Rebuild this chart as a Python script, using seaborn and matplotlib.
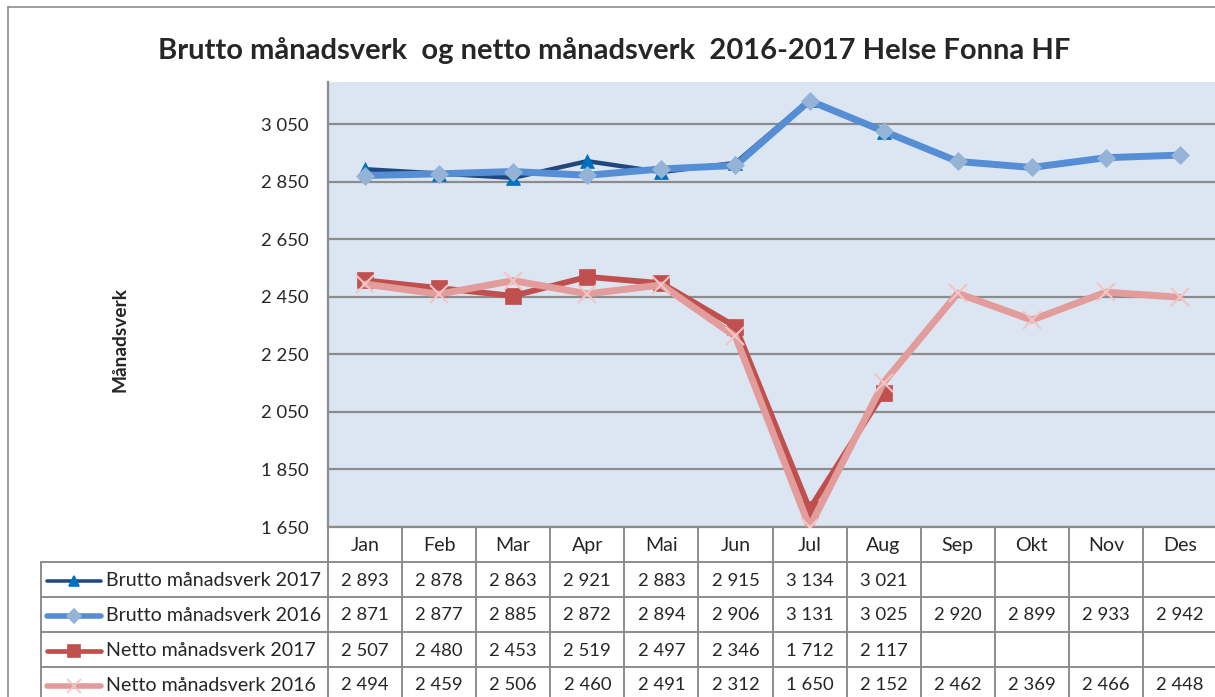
import numpy as np
import pandas as pd
import matplotlib
matplotlib.use("Agg")
import matplotlib.pyplot as plt
import seaborn as sns
from matplotlib.lines import Line2D

months = ["Jan", "Feb", "Mar", "Apr", "Mai", "Jun", "Jul", "Aug", "Sep", "Okt", "Nov", "Des"]
series_names = ["Brutto månadsverk 2017", "Brutto månadsverk 2016",
                "Netto månadsverk 2017", "Netto månadsverk 2016"]
brutto_2017 = [2893, 2878, 2863, 2921, 2883, 2915, 3134, 3021, np.nan, np.nan, np.nan, np.nan]
brutto_2016 = [2871, 2877, 2885, 2872, 2894, 2906, 3131, 3025, 2920, 2899, 2933, 2942]
netto_2017 = [2507, 2480, 2453, 2519, 2497, 2346, 1712, 2117, np.nan, np.nan, np.nan, np.nan]
netto_2016 = [2494, 2459, 2506, 2460, 2491, 2312, 1650, 2152, 2462, 2369, 2466, 2448]
y_ticks = [1650, 1850, 2050, 2250, 2450, 2650, 2850, 3050]
title = "Brutto månadsverk  og netto månadsverk  2016-2017 Helse Fonna HF"
y_label = "Månadsverk"

sns.set_style("white")
plt.rcParams["font.family"] = ["Lato", "DejaVu Sans"]

W, H = 1215, 697
fig = plt.figure(figsize=(W / 100, H / 100), dpi=100)

# overlay axes in pixel coordinates
ov = fig.add_axes([0, 0, 1, 1])
ov.set_xlim(0, W)
ov.set_ylim(H, 0)
ov.axis("off")

px_left, px_right, px_top, px_bot = 328, 1217, 82, 527
ax = fig.add_axes([px_left / W, (H - px_bot) / H, (px_right - px_left) / W, (px_bot - px_top) / H])
ax.set_facecolor("#DCE6F2")

styles = [
    dict(color="#1F497D", lw=3.2, marker="^", ms=10.5, mfc="#0070C0", mec="#0070C0", z=3),
    dict(color="#558ED5", lw=5.0, marker="D", ms=9.5, mfc="#95B3D7", mec="#95B3D7", z=4),
    dict(color="#C0504D", lw=4.2, marker="s", ms=11, mfc="#C0504D", mec="#C0504D", z=5),
    dict(color="#E29C9B", lw=5.0, marker="x", ms=13, mfc="#F2C4C3", mec="#F2C4C3", z=6),
]
all_series = [brutto_2017, brutto_2016, netto_2017, netto_2016]
xpos = np.arange(len(months))
for name, vals, st in zip(series_names, all_series, styles):
    df = pd.DataFrame({"x": xpos, "y": vals}).dropna()
    sns.lineplot(data=df, x="x", y="y", ax=ax, color=st["color"], linewidth=st["lw"],
                 marker=st["marker"], markersize=st["ms"], markerfacecolor=st["mfc"],
                 markeredgecolor=st["mec"], markeredgewidth=1.5 if st["marker"] == "x" else 0.5,
                 zorder=st["z"], sort=False)

num_fs = 13.3
lab_fs = 14.1
ax.set_xlim(-0.5, len(months) - 0.5)
ax.set_ylim(1650, 3196)
ax.set_yticks(y_ticks)
ax.set_yticklabels([f"{t:,}".replace(",", " ") for t in y_ticks], fontsize=num_fs)
ax.tick_params(axis="y", length=0, pad=14)
ax.set_xticks([])
ax.set_xlabel("")
ax.set_ylabel("")
for t in y_ticks:
    ax.axhline(t, color="#8C8C8C", lw=1.6, zorder=1)
for s in ["top", "right"]:
    ax.spines[s].set_visible(False)
ax.spines["left"].set_color("#8C8C8C")
ax.spines["left"].set_linewidth(1.6)
ax.spines["bottom"].set_color("#8C8C8C")
ax.spines["bottom"].set_linewidth(1.6)

# outer chart border
ov.plot([8, 8], [7, H + 5], color="#8C8C8C", lw=1.2)
ov.plot([8, W + 5], [7, 7], color="#8C8C8C", lw=1.2)

# title and y label
fig.text(614 / W, 1 - 51 / H, title, ha="center", va="center", fontsize=21, fontweight="bold")
fig.text(120 / W, 1 - 339 / H, y_label, ha="center", va="center", rotation=90,
         fontsize=13.8, fontweight="bold")

# data table
col_w = (px_right - px_left) / len(months)
row_h = 35
tab_left = 41
grid_c = "#8C8C8C"
header_bot = px_bot + row_h
n_rows = len(series_names)
table_bot = header_bot + n_rows * row_h
for i in range(len(months) + 1):
    x = px_left + i * col_w
    ov.plot([x, x], [px_bot, table_bot], color=grid_c, lw=1.4)
ov.plot([tab_left, tab_left], [header_bot, table_bot], color=grid_c, lw=1.4)
for r in range(n_rows + 1):
    y = header_bot + r * row_h
    ov.plot([tab_left, px_right], [y, y], color=grid_c, lw=1.4)
for i, m in enumerate(months):
    ov.text(px_left + (i + 0.5) * col_w, px_bot + row_h / 2 + 1, m, ha="center", va="center",
            fontsize=lab_fs)
for r, (name, vals, st) in enumerate(zip(series_names, all_series, styles)):
    yc = header_bot + (r + 0.5) * row_h + 1
    ov.add_line(Line2D([47, 101], [yc, yc], color=st["color"], lw=st["lw"] * 0.8,
                       solid_capstyle="round"))
    ov.add_line(Line2D([74], [yc], marker=st["marker"], ms=st["ms"] * 0.75, mfc=st["mfc"],
                       mec=st["mec"], mew=1.2, lw=0))
    ov.text(106, yc, name, ha="left", va="center", fontsize=lab_fs)
    for i, v in enumerate(vals):
        if not np.isnan(v):
            ov.text(px_left + (i + 0.5) * col_w, yc, f"{int(v):,}".replace(",", " "),
                    ha="center", va="center", fontsize=num_fs)

fig.savefig("out.png", dpi=100)
